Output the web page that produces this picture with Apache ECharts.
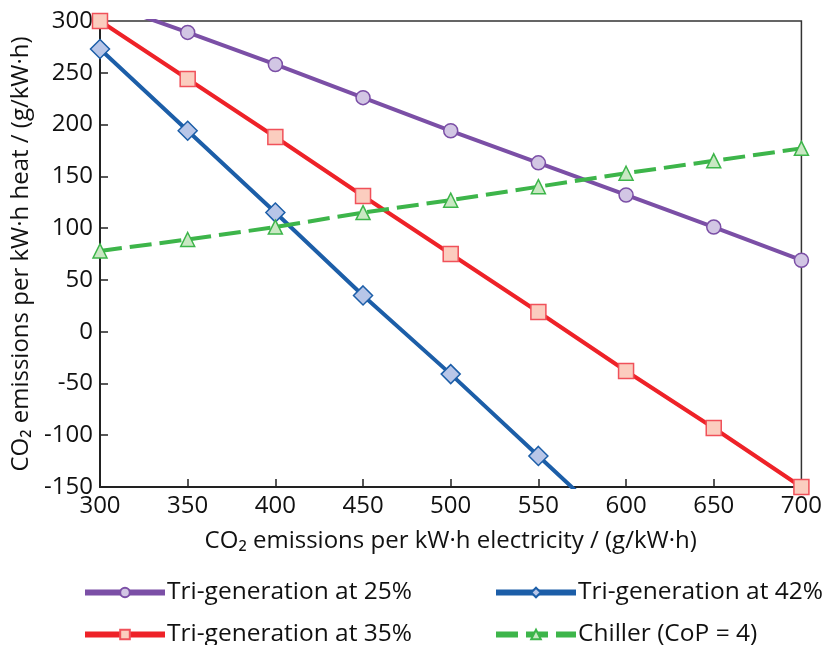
<!DOCTYPE html>
<html>
<head>
<meta charset="utf-8">
<script src="https://cdn.jsdelivr.net/npm/echarts@6/dist/echarts.min.js"></script>
<style>
html,body{margin:0;padding:0;background:#fff;}
#chart{width:825px;height:645px;}
</style>
</head>
<body>
<div id="chart"></div>
<script>
// x values: CO2 per kWh electricity
var electricity = [300, 350, 400, 450, 500, 550, 600, 650, 700];
// tri-generation at 25% (first point lies above the frame, clipped)
var tri25 = [319, 289, 258, 226, 194, 163, 132, 101, 69];
var tri35 = [300, 244, 188, 131, 75, 19, -38, -93, -150];
// tri-generation at 42% (last point lies below the frame, clipped)
var tri42 = [273, 194, 115, 35, -41, -120, -199];
var chiller = [78, 89, 101, 115, 127, 140, 153, 165, 177];

var names = ['Tri-generation at 25%', 'Tri-generation at 35%', 'Tri-generation at 42%', 'Chiller (CoP = 4)'];

var fontFam = '"Open Sans", "Noto Sans", sans-serif';

function pairs(ys, hideFirst, hideLast){
	var out = [];
	for(var i = 0; i < ys.length; i++){
		var item = {value: [electricity[i], ys[i]]};
		if((hideFirst && i == 0) || (hideLast && i == ys.length - 1)){
			item.symbol = 'none';
		}
		out.push(item);
	}
	return out;
}

function legendAt(name, left, top){
	return {
		data: [name],
		left: left,
		top: top,
		itemWidth: 80,
		itemHeight: 12,
		itemGap: 0,
		lineStyle: {width: 6},
		textStyle: {fontSize: 24.5, color: '#111', fontFamily: fontFam, padding: [0, 0, 0, -3]}
	};
}

var chart = echarts.init(document.getElementById('chart'));
var option = {
	animation: false,
	grid: {
		left: 100, right: 19, top: 21, bottom: 158,
		show: true, borderColor: '#333', borderWidth: 1.5
	},
	legend: [
		legendAt(names[0], 77, 575),
		legendAt(names[2], 488, 575),
		legendAt(names[1], 77, 617),
		legendAt(names[3], 488, 617)
	],
	xAxis: {
		type: 'value',
		min: 300, max: 700, interval: 50,
		name: 'CO₂ emissions per kW·h electricity / (g/kW·h)',
		nameLocation: 'middle',
		nameGap: 42,
		nameTextStyle: {fontSize: 24, color: '#111', fontFamily: fontFam},
		axisLine: {onZero: false, lineStyle: {color: '#222', width: 2}},
		axisTick: {inside: true, length: 8, lineStyle: {color: '#222', width: 1.5}},
		axisLabel: {fontSize: 24, color: '#111', fontFamily: fontFam, margin: 7},
		splitLine: {show: false}
	},
	yAxis: {
		type: 'value',
		min: -150, max: 300, interval: 50,
		name: 'CO₂ emissions per kW·h heat / (g/kW·h)',
		nameLocation: 'middle',
		nameGap: 66,
		nameTextStyle: {fontSize: 24, color: '#111', fontFamily: fontFam},
		axisLine: {show: true, onZero: false, lineStyle: {color: '#222', width: 2}},
		axisTick: {show: true, inside: true, length: 8, lineStyle: {color: '#222', width: 1.5}},
		axisLabel: {fontSize: 24, color: '#111', fontFamily: fontFam, margin: 7},
		splitLine: {show: false}
	},
	series: [{
		name: names[0],
		type: 'line',
		clip: true,
		data: pairs(tri25, true, false),
		symbol: 'circle',
		symbolSize: 14,
		lineStyle: {color: '#7b4fa6', width: 4},
		itemStyle: {color: '#d2c6e4', borderColor: '#7b4fa6', borderWidth: 1.5}
	},{
		name: names[1],
		type: 'line',
		clip: true,
		data: pairs(tri35, false, false),
		symbol: 'rect',
		symbolSize: 15,
		lineStyle: {color: '#ee2228', width: 4},
		itemStyle: {color: '#fbcdbf', borderColor: '#f0515a', borderWidth: 1.5}
	},{
		name: names[2],
		type: 'line',
		clip: true,
		data: pairs(tri42, false, true),
		symbol: 'diamond',
		symbolSize: 19,
		lineStyle: {color: '#1c5ea8', width: 4},
		itemStyle: {color: '#b8c6e8', borderColor: '#1c5ea8', borderWidth: 1.5}
	},{
		name: names[3],
		type: 'line',
		clip: true,
		data: pairs(chiller, false, false),
		symbol: 'triangle',
		symbolSize: 14,
		lineStyle: {color: '#3db54a', width: 4, type: [22, 8]},
		itemStyle: {color: '#c9e8c3', borderColor: '#3db54a', borderWidth: 1.5}
	}]
};
chart.setOption(option);
</script>
</body>
</html>
